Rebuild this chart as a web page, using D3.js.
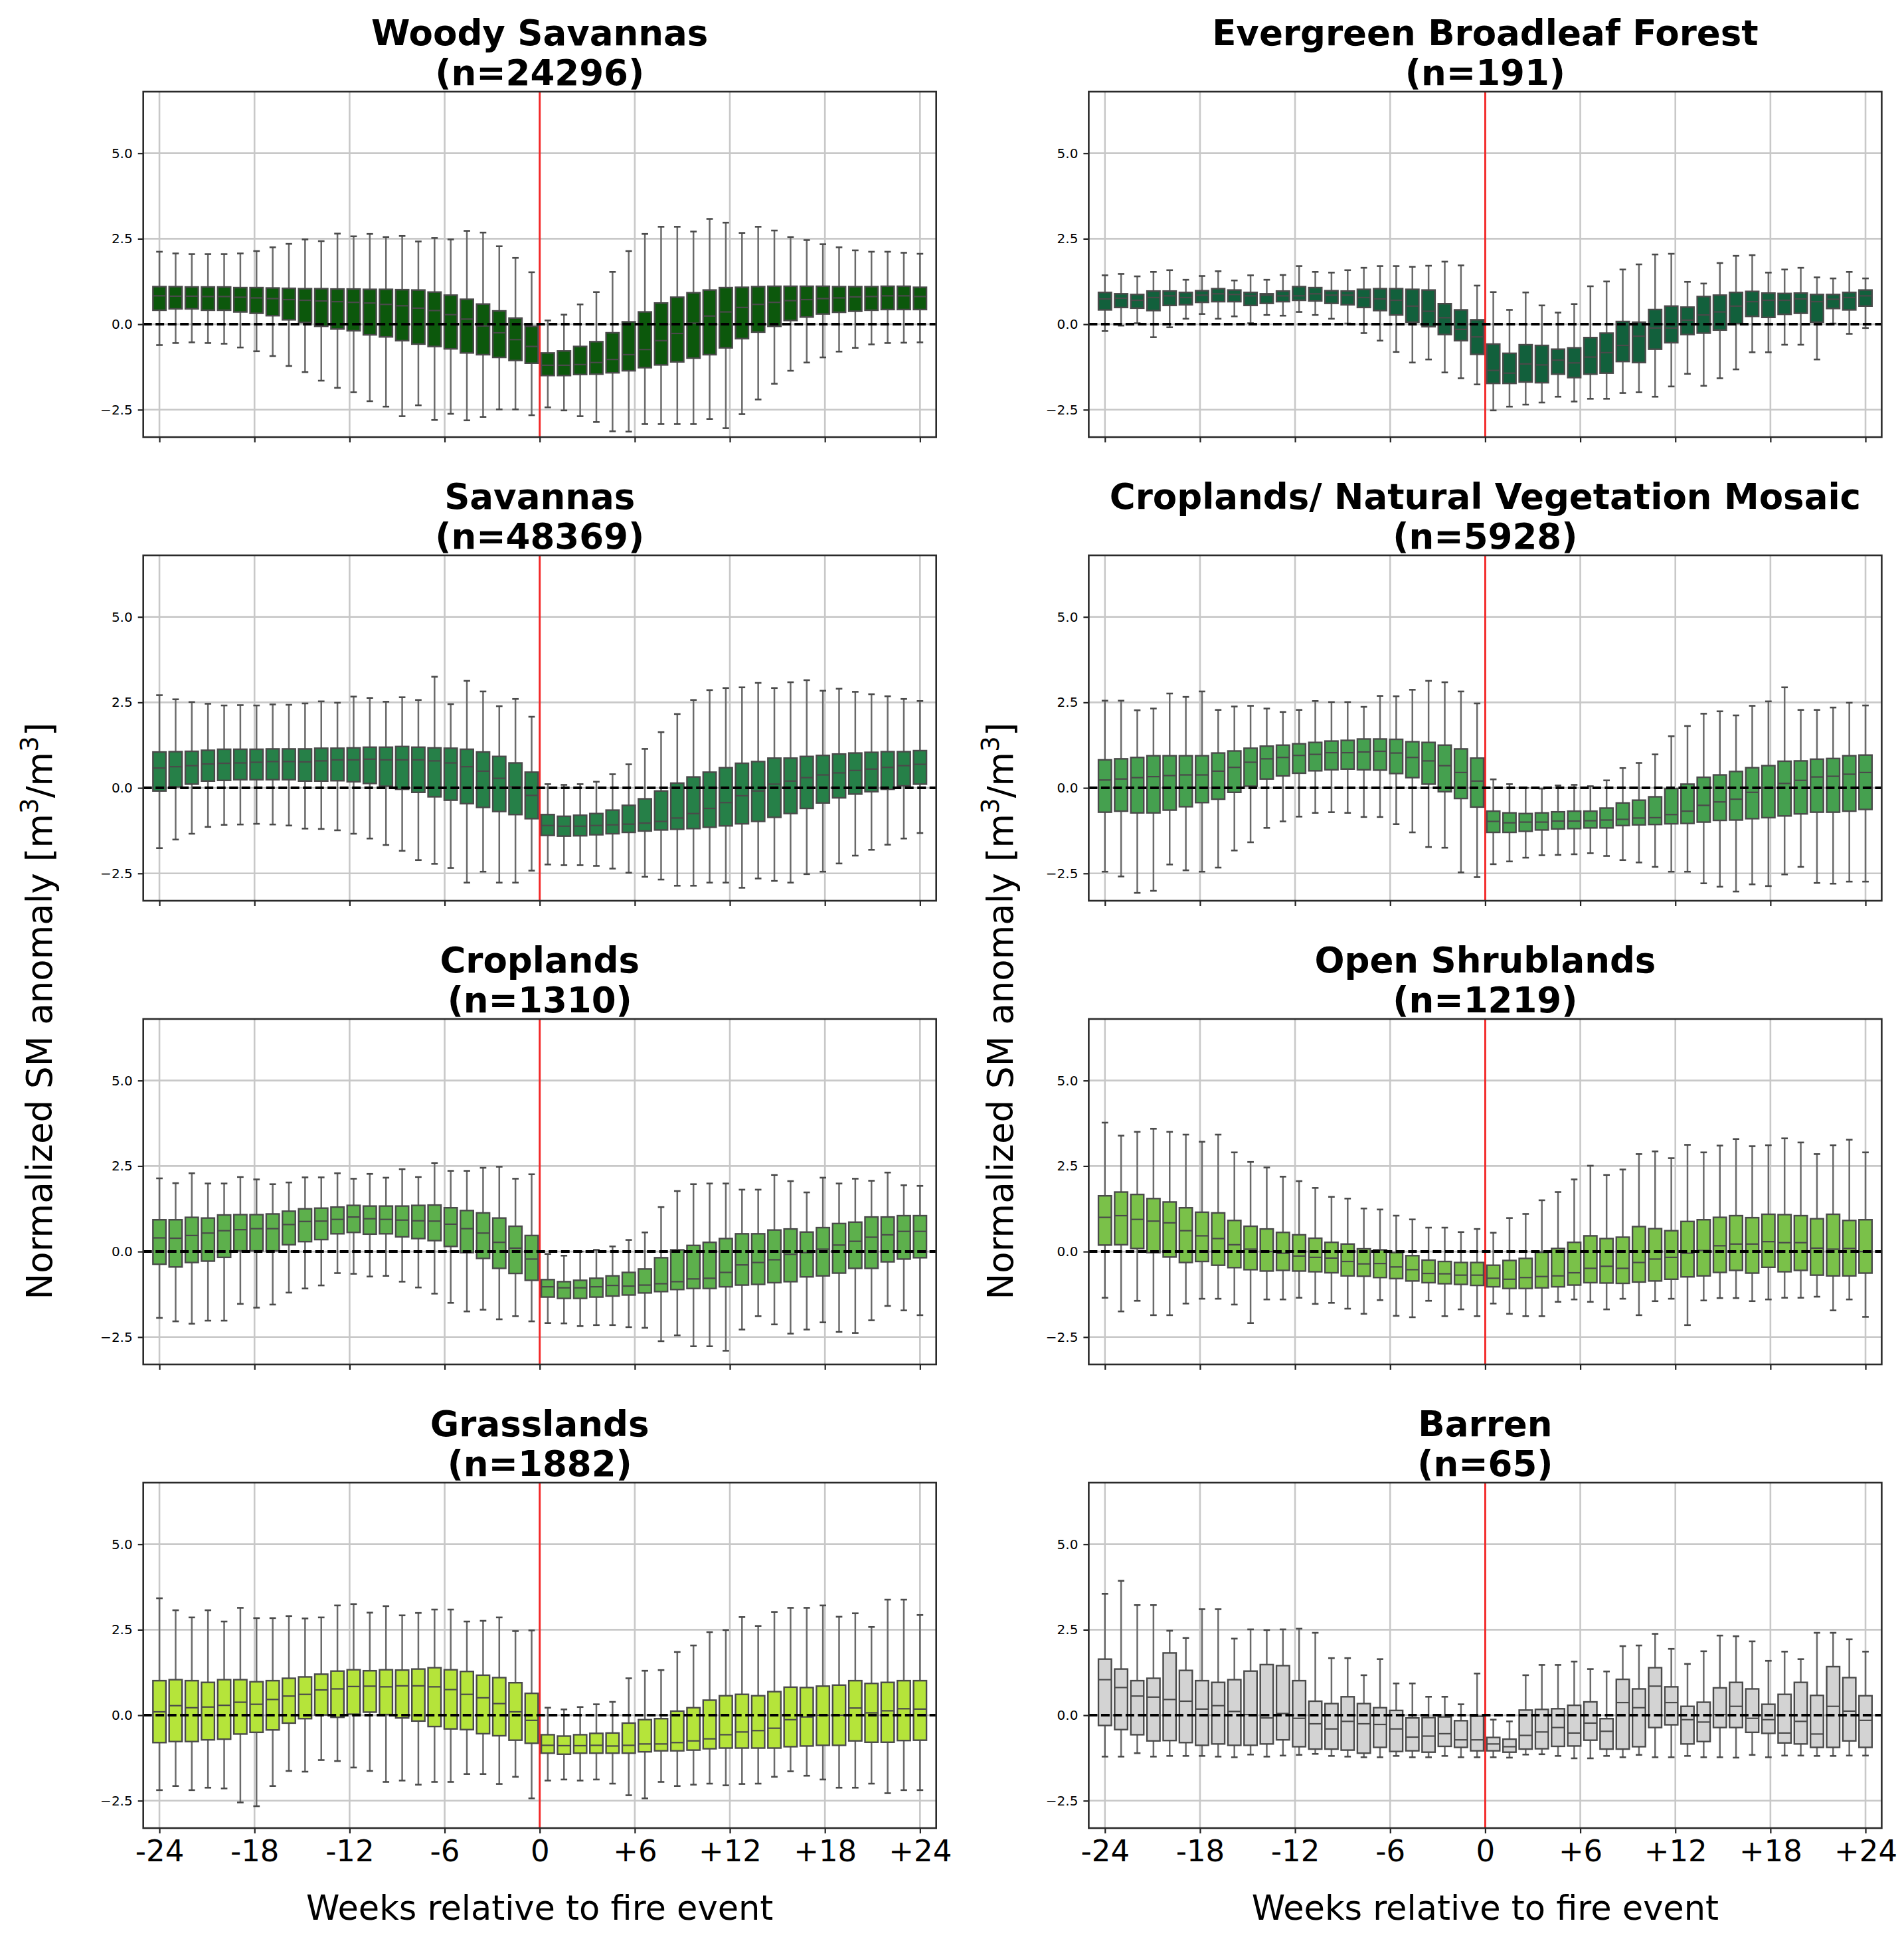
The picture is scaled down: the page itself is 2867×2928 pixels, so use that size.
<!DOCTYPE html>
<html>
<head>
<meta charset="utf-8">
<script src="https://cdn.jsdelivr.net/npm/d3@7.9.0/dist/d3.min.js"></script>
<style>
  body { margin: 0; background: #fff; }
  svg { display: block; font-family: "DejaVu Sans", sans-serif; }
</style>
</head>
<body>
<div id="chart"></div>
<script>
// Weeks relative to fire event (no week 0), one box per week
const weeks = [...d3.range(-24, 0), ...d3.range(1, 25)];
const xTickLabels = ["-24", "-18", "-12", "-6", "0", "+6", "+12", "+18", "+24"];
const yTickValues = [-2.5, 0, 2.5, 5.0];

const panelTitles = ["Woody Savannas", "Evergreen Broadleaf Forest", "Savannas",
  "Croplands/ Natural Vegetation Mosaic", "Croplands", "Open Shrublands", "Grasslands", "Barren"];
const panelCounts = [24296, 191, 48369, 5928, 1310, 1219, 1882, 65];
const panelColors = ["#0c580c", "#12603c", "#268048", "#45a04f", "#5db04c", "#7ac149", "#b5e43a", "#d3d3d3"];

// Woody Savannas
const wsHi = [2.12,2.07,2.05,2.05,2.05,2.07, 2.14,2.25,2.35,2.48,2.43,2.65, 2.57,2.64,2.55,2.58,2.42,2.52, 2.48,2.73,2.68,2.28,1.94,1.52, 0.11,0.28,0.58,0.94,1.53,2.14, 2.64,2.85,2.85,2.71,3.08,2.97, 2.67,2.85,2.74,2.55,2.46,2.34, 2.25,2.16,2.12,2.12,2.09,2.06];
const wsQ3 = [1.10,1.10,1.09,1.09,1.09,1.07, 1.07,1.06,1.05,1.04,1.04,1.03, 1.03,1.02,1.02,1.01,1.00,0.94, 0.85,0.73,0.59,0.39,0.18,-0.06, -0.84,-0.78,-0.65,-0.51,-0.25,0.07, 0.36,0.62,0.79,0.92,1.00,1.07, 1.08,1.10,1.11,1.11,1.11,1.11, 1.10,1.10,1.10,1.11,1.11,1.08];
const wsMed = [0.83,0.82,0.82,0.81,0.81,0.79, 0.77,0.75,0.72,0.70,0.68,0.66, 0.64,0.62,0.58,0.54,0.47,0.40, 0.28,0.15,-0.05,-0.25,-0.45,-0.65, -1.20,-1.20,-1.18,-1.12,-1.03,-0.89, -0.74,-0.48,-0.27,0.03,0.24,0.36, 0.49,0.58,0.64,0.69,0.72,0.75, 0.77,0.80,0.81,0.83,0.83,0.81];
const wsQ1 = [0.41,0.45,0.45,0.41,0.41,0.36, 0.32,0.25,0.13,0.05,-0.06,-0.14, -0.19,-0.31,-0.37,-0.48,-0.58,-0.65, -0.72,-0.84,-0.89,-0.97,-1.06,-1.14, -1.50,-1.50,-1.47,-1.46,-1.42,-1.36, -1.27,-1.19,-1.10,-0.99,-0.89,-0.69, -0.42,-0.23,-0.06,0.11,0.21,0.30, 0.35,0.38,0.41,0.43,0.43,0.43];
const wsLo = [-0.61,-0.55,-0.53,-0.55,-0.57,-0.68, -0.79,-0.93,-1.22,-1.40,-1.65,-1.86, -1.99,-2.25,-2.41,-2.69,-2.37,-2.80, -2.62,-2.81,-2.71,-2.49,-2.49,-2.66, -2.43,-2.52,-2.69,-2.86,-3.13,-3.14, -2.92,-2.92,-2.92,-2.92,-2.77,-3.04, -2.63,-2.20,-1.74,-1.36,-1.12,-0.97, -0.80,-0.69,-0.59,-0.55,-0.54,-0.53];

// Evergreen Broadleaf Forest
const ebHi = [1.43,1.47,1.40,1.53,1.58,1.30, 1.41,1.55,1.28,1.43,1.30,1.44, 1.70,1.53,1.51,1.58,1.65,1.70, 1.70,1.68,1.71,1.83,1.72,1.13, 0.94,0.42,0.93,0.55,0.34,0.59, 1.11,1.25,1.60,1.75,2.04,2.06, 1.24,1.19,1.79,2.00,2.02,1.51, 1.60,1.65,1.37,1.34,1.53,1.34];
const ebQ3 = [0.93,0.89,0.87,0.97,0.97,0.93, 0.98,1.04,1.00,0.93,0.89,0.97, 1.10,1.07,0.98,0.97,1.02,1.04, 1.04,1.02,1.00,0.60,0.42,0.13, -0.58,-0.85,-0.60,-0.62,-0.73,-0.69, -0.39,-0.26,0.08,0.06,0.43,0.53, 0.50,0.81,0.85,0.93,0.96,0.91, 0.90,0.91,0.87,0.87,0.93,1.00];
const ebMed = [0.74,0.76,0.70,0.78,0.83,0.78, 0.85,0.89,0.87,0.83,0.85,0.83, 0.83,0.89,0.85,0.85,0.78,0.74, 0.70,0.53,0.38,0.19,-0.15,-0.37, -1.35,-1.43,-1.16,-1.19,-1.05,-1.13, -0.96,-0.83,-0.62,-0.35,-0.11,-0.11, 0.12,0.27,0.36,0.53,0.66,0.70, 0.70,0.74,0.66,0.73,0.78,0.83];
const ebQ1 = [0.42,0.49,0.47,0.40,0.55,0.57, 0.64,0.66,0.66,0.55,0.61,0.66, 0.70,0.68,0.61,0.57,0.49,0.40, 0.27,0.06,-0.07,-0.30,-0.48,-0.88, -1.73,-1.73,-1.69,-1.71,-1.46,-1.56, -1.46,-1.43,-1.09,-1.12,-0.73,-0.54, -0.30,-0.26,-0.17,0.02,0.23,0.20, 0.29,0.32,0.06,0.46,0.42,0.53];
const ebLo = [-0.20,-0.04,0.03,-0.38,-0.09,0.16, 0.30,0.16,0.23,0.03,0.27,0.25, 0.36,0.27,0.16,0.02,-0.26,-0.48, -0.81,-1.12,-1.03,-1.41,-1.58,-1.76, -2.52,-2.41,-2.35,-2.29,-2.12,-2.26, -2.18,-2.18,-2.01,-1.99,-2.12,-1.82, -1.45,-1.80,-1.58,-1.32,-0.82,-0.82, -0.60,-0.60,-1.03,0.02,-0.28,-0.11];

// Savannas
const svHi = [2.71,2.59,2.51,2.46,2.41,2.42, 2.41,2.44,2.43,2.47,2.53,2.49, 2.67,2.63,2.52,2.65,2.57,3.25, 2.45,3.13,2.82,2.39,2.60,2.08, 0.11,0.09,0.11,0.18,0.40,0.69, 1.14,1.63,2.16,2.57,2.86,2.92, 2.94,3.07,2.92,3.09,3.15,2.84, 2.90,2.81,2.74,2.68,2.60,2.54];
const svQ3 = [1.05,1.06,1.07,1.10,1.13,1.13, 1.13,1.14,1.14,1.14,1.16,1.16, 1.17,1.19,1.19,1.21,1.19,1.17, 1.16,1.13,1.05,0.92,0.73,0.46, -0.78,-0.83,-0.80,-0.75,-0.65,-0.51, -0.32,-0.09,0.14,0.32,0.46,0.59, 0.72,0.77,0.87,0.87,0.92,0.95, 0.99,1.02,1.04,1.06,1.06,1.09];
const svMed = [0.58,0.62,0.65,0.70,0.72,0.73, 0.75,0.77,0.77,0.76,0.79,0.82, 0.82,0.84,0.82,0.82,0.82,0.79, 0.73,0.62,0.49,0.28,0.03,-0.22, -1.10,-1.12,-1.12,-1.10,-1.08,-1.06, -1.03,-0.98,-0.88,-0.75,-0.60,-0.43, -0.23,-0.09,0.11,0.20,0.30,0.38, 0.44,0.51,0.55,0.60,0.65,0.69];
const svQ1 = [-0.09,0.03,0.11,0.20,0.22,0.24, 0.24,0.24,0.24,0.20,0.20,0.21, 0.18,0.13,0.05,-0.04,-0.13,-0.26, -0.36,-0.46,-0.57,-0.69,-0.78,-0.90, -1.39,-1.41,-1.40,-1.37,-1.34,-1.30, -1.26,-1.23,-1.21,-1.19,-1.15,-1.11, -1.05,-0.98,-0.86,-0.75,-0.60,-0.44, -0.29,-0.18,-0.11,-0.04,0.06,0.11];
const svLo = [-1.76,-1.51,-1.34,-1.14,-1.08,-1.07, -1.05,-1.07,-1.10,-1.19,-1.20,-1.24, -1.34,-1.48,-1.67,-1.84,-2.11,-2.22, -2.34,-2.77,-2.45,-2.77,-2.77,-2.42, -2.24,-2.26,-2.26,-2.28,-2.36,-2.48, -2.60,-2.68,-2.86,-2.86,-2.77,-2.77, -2.92,-2.65,-2.72,-2.77,-2.52,-2.45, -2.21,-1.98,-1.81,-1.66,-1.48,-1.32];

// Croplands/ Natural Vegetation Mosaic
const cmHi = [2.55,2.55,2.27,2.32,2.76,2.66, 2.82,2.28,2.38,2.40,2.32,2.22, 2.28,2.54,2.51,2.51,2.37,2.69, 2.68,2.87,3.13,3.09,2.82,2.47, 0.25,0.11,0.00,-0.02,0.07,0.09, 0.05,0.22,0.58,0.73,0.98,1.51, 1.81,2.17,2.24,2.12,2.40,2.53, 2.94,2.28,2.28,2.35,2.49,2.41];
const cmQ3 = [0.82,0.85,0.89,0.94,0.94,0.94, 0.94,1.02,1.08,1.16,1.22,1.25, 1.29,1.33,1.37,1.39,1.43,1.43, 1.42,1.35,1.33,1.25,1.14,0.87, -0.68,-0.73,-0.75,-0.73,-0.70,-0.68, -0.68,-0.59,-0.44,-0.36,-0.26,-0.02, 0.11,0.31,0.38,0.48,0.59,0.65, 0.78,0.79,0.84,0.86,0.94,0.96];
const cmMed = [0.23,0.26,0.30,0.33,0.36,0.38, 0.38,0.49,0.60,0.75,0.85,0.89, 0.95,0.98,1.03,1.03,1.05,1.07, 1.02,0.89,0.79,0.65,0.45,0.20, -0.98,-1.02,-1.00,-1.00,-0.97,-0.97, -0.96,-0.94,-0.92,-0.88,-0.87,-0.78, -0.68,-0.51,-0.41,-0.33,-0.13,0.00, 0.13,0.22,0.32,0.34,0.40,0.45];
const cmQ1 = [-0.71,-0.68,-0.73,-0.73,-0.65,-0.55, -0.43,-0.33,-0.13,0.05,0.26,0.35, 0.43,0.50,0.53,0.55,0.53,0.52, 0.42,0.30,0.11,-0.11,-0.31,-0.56, -1.30,-1.30,-1.27,-1.23,-1.20,-1.19, -1.17,-1.17,-1.10,-1.08,-1.07,-1.05, -1.04,-1.00,-0.95,-0.94,-0.90,-0.87, -0.82,-0.76,-0.71,-0.71,-0.68,-0.63];
const cmLo = [-2.45,-2.59,-3.07,-3.01,-2.24,-2.41, -2.45,-2.33,-1.83,-1.59,-1.17,-0.98, -0.84,-0.73,-0.71,-0.73,-0.85,-0.85, -1.06,-1.30,-1.73,-1.75,-2.47,-2.61, -2.23,-2.15,-2.04,-1.97,-1.96,-1.94, -1.91,-1.99,-2.11,-2.18,-2.31,-2.45, -2.45,-2.79,-2.89,-3.03,-2.82,-2.87, -2.53,-2.31,-2.78,-2.80,-2.74,-2.74];

// Croplands
const crHi = [2.14,2.00,2.29,1.99,1.99,2.18, 2.11,1.97,2.02,2.17,2.17,2.29, 2.13,2.27,2.16,2.41,2.18,2.59, 2.36,2.36,2.45,2.48,2.13,2.26, -0.07,-0.12,0.00,0.05,0.15,0.34, 0.56,1.30,1.77,1.97,1.99,1.99, 1.81,1.81,2.24,2.06,1.73,2.16, 1.99,2.13,2.07,2.31,1.94,1.92];
const crQ3 = [0.93,0.93,1.00,0.98,1.07,1.08, 1.08,1.10,1.18,1.25,1.27,1.30, 1.35,1.33,1.33,1.33,1.35,1.36, 1.28,1.20,1.13,0.98,0.74,0.47, -0.82,-0.88,-0.84,-0.78,-0.71,-0.61, -0.51,-0.18,0.05,0.18,0.27,0.38, 0.52,0.52,0.63,0.66,0.57,0.70, 0.82,0.86,1.01,1.01,1.05,1.05];
const crMed = [0.40,0.39,0.47,0.54,0.61,0.64, 0.67,0.67,0.79,0.88,0.89,0.94, 1.01,0.96,0.94,0.92,0.90,0.89, 0.80,0.67,0.54,0.27,0.10,-0.22, -1.03,-1.06,-1.06,-1.03,-0.99,-1.01, -0.98,-0.94,-0.88,-0.80,-0.78,-0.61, -0.39,-0.32,-0.24,-0.08,-0.03,0.07, 0.19,0.30,0.42,0.49,0.59,0.59];
const crQ1 = [-0.37,-0.45,-0.32,-0.28,-0.17,0.02, 0.02,0.02,0.20,0.29,0.35,0.52, 0.56,0.51,0.52,0.43,0.38,0.32, 0.15,-0.03,-0.20,-0.49,-0.64,-0.84, -1.33,-1.37,-1.37,-1.33,-1.30,-1.27, -1.21,-1.17,-1.11,-1.08,-1.08,-1.03, -0.98,-0.96,-0.91,-0.88,-0.74,-0.71, -0.63,-0.49,-0.49,-0.30,-0.22,-0.18];
const crLo = [-1.94,-2.04,-2.11,-2.02,-2.02,-1.53, -1.64,-1.55,-1.20,-1.08,-0.99,-0.63, -0.65,-0.73,-0.71,-0.88,-1.05,-1.23, -1.50,-1.75,-1.70,-1.98,-1.89,-2.04, -2.09,-2.10,-2.18,-2.15,-2.15,-2.21, -2.23,-2.62,-2.45,-2.77,-2.77,-2.90, -2.28,-1.89,-2.13,-2.40,-2.28,-2.07, -2.35,-2.38,-2.01,-1.59,-1.72,-1.86];

// Open Shrublands
const osHi = [3.77,3.39,3.50,3.59,3.50,3.42, 3.21,3.42,2.90,2.62,2.46,2.19, 2.06,1.86,1.60,1.55,1.26,1.23, 1.05,0.94,0.70,0.70,0.57,0.66, 0.55,0.98,1.10,1.50,1.74,2.11, 2.51,2.24,2.40,2.85,2.93,2.73, 3.12,2.90,3.10,3.29,3.08,3.11, 3.31,3.19,2.85,3.11,3.27,2.90];
const osQ3 = [1.63,1.74,1.67,1.55,1.45,1.28, 1.15,1.13,0.91,0.74,0.66,0.56, 0.49,0.39,0.27,0.22,0.08,0.05, -0.03,-0.12,-0.25,-0.29,-0.32,-0.32, -0.40,-0.26,-0.20,-0.02,0.09,0.27, 0.46,0.38,0.42,0.73,0.67,0.61, 0.88,0.93,1.00,1.05,0.99,1.09, 1.08,1.05,0.96,1.09,0.91,0.93];
const osMed = [1.00,1.05,0.94,0.89,0.84,0.61, 0.46,0.38,0.20,0.07,0.00,-0.05, -0.13,-0.17,-0.19,-0.29,-0.36,-0.35, -0.45,-0.53,-0.64,-0.65,-0.69,-0.69, -0.78,-0.81,-0.76,-0.73,-0.71,-0.62, -0.49,-0.43,-0.49,-0.32,-0.22,-0.17, -0.05,0.03,0.17,0.22,0.22,0.29, 0.26,0.26,0.10,0.07,0.09,0.00];
const osQ1 = [0.19,0.20,0.09,-0.03,-0.16,-0.32, -0.29,-0.40,-0.47,-0.53,-0.57,-0.55, -0.57,-0.59,-0.62,-0.71,-0.72,-0.76, -0.79,-0.86,-0.91,-0.94,-0.96,-0.99, -1.03,-1.08,-1.08,-1.06,-1.03,-0.98, -0.91,-0.92,-0.93,-0.89,-0.86,-0.81, -0.74,-0.71,-0.61,-0.55,-0.63,-0.46, -0.59,-0.55,-0.69,-0.71,-0.71,-0.63];
const osLo = [-1.35,-1.75,-1.44,-1.86,-1.86,-1.52, -1.38,-1.38,-1.55,-2.09,-1.40,-1.40, -1.35,-1.53,-1.50,-1.67,-1.82,-1.42, -1.88,-1.92,-1.44,-1.89,-1.69,-1.89, -1.52,-1.82,-1.89,-1.89,-1.47,-1.40, -1.47,-1.69,-1.38,-1.86,-1.45,-1.38, -2.15,-1.43,-1.36,-1.36,-1.45,-1.40, -1.35,-1.35,-1.32,-1.72,-1.40,-1.91];

// Grasslands
const grHi = [3.42,3.07,2.86,3.07,2.74,3.14, 2.84,2.84,2.90,2.83,2.86,3.21, 3.25,3.00,3.19,2.92,2.99,3.09, 3.09,2.74,2.76,2.86,2.46,2.48, 0.22,0.17,0.24,0.32,0.39,1.08, 1.30,1.32,1.85,2.04,2.43,2.49, 2.87,2.61,3.02,3.14,3.14,3.21, 2.88,2.98,2.58,3.38,3.38,2.93];
const grQ3 = [1.01,1.04,1.01,0.96,1.04,1.04, 0.98,1.01,1.08,1.12,1.20,1.29, 1.33,1.30,1.33,1.32,1.35,1.39, 1.33,1.28,1.17,1.10,0.95,0.64, -0.57,-0.61,-0.57,-0.53,-0.52,-0.23, -0.13,-0.10,0.12,0.22,0.44,0.57, 0.61,0.57,0.69,0.82,0.81,0.85, 0.88,1.01,0.93,0.96,1.01,1.01];
const grMed = [0.10,0.28,0.22,0.24,0.29,0.38, 0.32,0.46,0.56,0.61,0.74,0.77, 0.84,0.85,0.83,0.86,0.86,0.83, 0.75,0.61,0.51,0.34,0.10,-0.15, -0.88,-0.89,-0.89,-0.88,-0.90,-0.88, -0.84,-0.84,-0.80,-0.75,-0.69,-0.57, -0.49,-0.45,-0.38,-0.13,-0.05,0.00, 0.00,0.21,0.07,0.13,0.19,0.18];
const grQ1 = [-0.80,-0.77,-0.77,-0.72,-0.70,-0.55, -0.50,-0.43,-0.23,-0.10,0.01,-0.06, 0.03,0.09,0.02,-0.08,-0.17,-0.33, -0.40,-0.42,-0.54,-0.60,-0.73,-0.82, -1.11,-1.14,-1.11,-1.11,-1.11,-1.11, -1.07,-1.04,-1.04,-1.02,-0.98,-0.96, -0.96,-0.96,-0.96,-0.92,-0.90,-0.88, -0.88,-0.75,-0.79,-0.79,-0.74,-0.73];
const grLo = [-2.19,-2.07,-2.19,-2.12,-2.14,-2.55, -2.66,-2.07,-1.63,-1.65,-1.31,-1.34, -1.53,-1.63,-1.95,-1.91,-2.03,-1.95, -1.95,-1.72,-1.72,-2.01,-1.80,-2.43, -1.91,-1.88,-1.91,-1.88,-2.00,-2.34, -2.43,-1.95,-2.07,-2.03,-2.00,-2.05, -2.01,-2.00,-1.80,-1.64,-1.77,-1.88, -2.12,-2.12,-2.00,-2.28,-2.19,-2.19];

// Barren
const baHi = [3.55,3.93,3.22,3.22,2.47,2.26, 3.10,3.10,2.24,2.51,2.49,2.51, 2.53,2.41,1.67,1.67,1.17,1.64, 0.93,0.93,0.54,0.54,0.32,1.22, -0.13,-0.18,1.17,1.47,1.47,1.57, 1.35,1.28,2.02,2.04,2.38,1.94, 1.50,1.87,2.33,2.31,2.16,1.59, 1.86,1.64,2.41,2.41,2.22,1.86];
const baQ3 = [1.64,1.35,1.01,1.08,1.82,1.31, 1.01,0.96,1.04,1.29,1.48,1.45, 1.01,0.41,0.34,0.54,0.34,0.22, 0.14,-0.08,-0.07,-0.05,-0.16,-0.03, -0.65,-0.70,0.15,0.17,0.19,0.29, 0.39,-0.10,1.05,0.77,1.39,0.83, 0.26,0.38,0.80,0.96,0.77,0.32, 0.61,0.96,0.58,1.42,1.10,0.57];
const baMed = [1.04,0.81,0.56,0.53,0.46,0.41, 0.18,0.28,0.11,0.02,-0.08,0.05, -0.09,-0.25,-0.40,-0.18,-0.25,-0.27, -0.40,-0.64,-0.61,-0.54,-0.72,-0.72, -0.84,-0.92,-0.59,-0.49,-0.36,-0.52, -0.23,-0.47,0.37,0.22,0.85,0.37, -0.13,-0.20,0.02,0.26,-0.09,-0.13, -0.52,-0.18,-0.55,0.26,0.12,-0.15];
const baQ1 = [-0.30,-0.42,-0.57,-0.75,-0.74,-0.80, -0.88,-0.84,-0.88,-0.88,-0.84,-0.72, -0.92,-0.99,-0.99,-1.02,-1.11,-0.94, -1.06,-1.04,-1.08,-0.91,-0.94,-1.04, -1.04,-1.08,-0.99,-0.98,-0.91,-0.90, -0.73,-0.99,-0.99,-0.92,-0.36,-0.28, -0.84,-0.77,-0.36,-0.36,-0.50,-0.53, -0.81,-0.84,-0.94,-0.94,-0.75,-0.94];
const baLo = [-1.21,-1.21,-1.11,-1.21,-1.19,-1.19, -1.19,-1.21,-1.23,-1.15,-1.21,-1.18, -1.16,-1.13,-1.19,-1.21,-1.23,-1.23, -1.19,-1.23,-1.23,-1.19,-1.23,-1.23, -1.23,-1.24,-1.15,-1.14,-1.19,-1.26, -1.26,-1.19,-1.23,-1.16,-1.23,-1.23, -1.19,-1.23,-1.23,-1.24,-1.16,-1.23, -1.18,-1.18,-1.19,-1.19,-1.18,-1.18];

const panelStats = [
  [wsLo, wsQ1, wsMed, wsQ3, wsHi],
  [ebLo, ebQ1, ebMed, ebQ3, ebHi],
  [svLo, svQ1, svMed, svQ3, svHi],
  [cmLo, cmQ1, cmMed, cmQ3, cmHi],
  [crLo, crQ1, crMed, crQ3, crHi],
  [osLo, osQ1, osMed, osQ3, osHi],
  [grLo, grQ1, grMed, grQ3, grHi],
  [baLo, baQ1, baMed, baQ3, baHi]
];

// Layout
const W = 2867, H = 2928;
const colLeft = [215.7, 1639.4];
const rowTop = [138, 836, 1534, 2232];
const plotW = 1194, plotH = 520;
const edgeGray = "#4a4a4a";
const whiskerGray = "#6a6a6a";

const svg = d3.select("#chart").append("svg")
  .attr("width", W).attr("height", H)
  .attr("viewBox", `0 0 ${W} ${H}`);

const x = d3.scaleLinear().domain([-1, 48]).range([0, plotW]);
const y = d3.scaleLinear().domain([-3.3, 6.8]).range([plotH, 0]);
const xTickPos = d3.range(9).map((i) => (i * (weeks.length - 1)) / 8);
const fireIndex = (weeks.length - 1) / 2; // between week -1 and week +1
const boxW = (x(1) - x(0)) * 0.8;
const capW = boxW * 0.5;

function drawPanel(k) {
  const col = k % 2, row = Math.floor(k / 2);
  const [lo, q1, med, q3, hi] = panelStats[k];
  const color = panelColors[k];
  const g = svg.append("g")
    .attr("transform", `translate(${colLeft[col]},${rowTop[row]})`);

  // Title
  const title = g.append("text")
    .attr("text-anchor", "middle")
    .attr("font-weight", "bold")
    .attr("font-size", 53)
    .attr("fill", "#000");
  title.append("tspan").attr("x", plotW / 2).attr("y", -70).text(panelTitles[k]);
  title.append("tspan").attr("x", plotW / 2).attr("y", -10).text(`(n=${panelCounts[k]})`);

  // Grid
  g.append("g").selectAll("line").data(xTickPos).join("line")
    .attr("x1", (d) => x(d)).attr("x2", (d) => x(d))
    .attr("y1", 0).attr("y2", plotH)
    .attr("stroke", "#c8c8c8").attr("stroke-width", 2.6);
  g.append("g").selectAll("line").data(yTickValues).join("line")
    .attr("x1", 0).attr("x2", plotW)
    .attr("y1", (d) => y(d)).attr("y2", (d) => y(d))
    .attr("stroke", "#c8c8c8").attr("stroke-width", 2.6);

  // Fire event line
  g.append("line")
    .attr("x1", x(fireIndex)).attr("x2", x(fireIndex))
    .attr("y1", 0).attr("y2", plotH)
    .attr("stroke", "#f42424").attr("stroke-width", 2.8);

  const data = weeks.map((w, i) => ({ i, lo: lo[i], q1: q1[i], med: med[i], q3: q3[i], hi: hi[i] }));
  const boxes = g.append("g").selectAll("g").data(data).join("g");

  // Whiskers
  boxes.append("line")
    .attr("x1", (d) => x(d.i)).attr("x2", (d) => x(d.i))
    .attr("y1", (d) => y(d.hi)).attr("y2", (d) => y(d.q3))
    .attr("stroke", whiskerGray).attr("stroke-width", 2.5);
  boxes.append("line")
    .attr("x1", (d) => x(d.i)).attr("x2", (d) => x(d.i))
    .attr("y1", (d) => y(d.q1)).attr("y2", (d) => y(d.lo))
    .attr("stroke", whiskerGray).attr("stroke-width", 2.5);
  // Caps
  ["hi", "lo"].forEach((key) => {
    boxes.append("line")
      .attr("x1", (d) => x(d.i) - capW / 2).attr("x2", (d) => x(d.i) + capW / 2)
      .attr("y1", (d) => y(d[key])).attr("y2", (d) => y(d[key]))
      .attr("stroke", edgeGray).attr("stroke-width", 2.6);
  });
  // Boxes
  boxes.append("rect")
    .attr("x", (d) => x(d.i) - boxW / 2)
    .attr("width", boxW)
    .attr("y", (d) => y(d.q3))
    .attr("height", (d) => y(d.q1) - y(d.q3))
    .attr("fill", color)
    .attr("stroke", edgeGray).attr("stroke-width", 2.4);
  // Medians
  boxes.append("line")
    .attr("x1", (d) => x(d.i) - boxW / 2).attr("x2", (d) => x(d.i) + boxW / 2)
    .attr("y1", (d) => y(d.med)).attr("y2", (d) => y(d.med))
    .attr("stroke", edgeGray).attr("stroke-width", 2.2);

  // Zero reference line
  g.append("line")
    .attr("x1", 0).attr("x2", plotW)
    .attr("y1", y(0)).attr("y2", y(0))
    .attr("stroke", "#000").attr("stroke-width", 4)
    .attr("stroke-dasharray", "13,5.5");

  // Axes
  const xAxis = d3.axisBottom(x).tickValues(xTickPos).tickSize(8).tickPadding(10)
    .tickFormat((d, i) => (row === 3 ? xTickLabels[i] : ""));
  const gx = g.append("g").attr("transform", `translate(0,${plotH})`).call(xAxis);
  gx.select(".domain").remove();
  gx.selectAll(".tick line").attr("stroke", "#222").attr("stroke-width", 2.2);
  gx.selectAll(".tick text").attr("font-size", 45).attr("fill", "#000")
    .attr("font-family", '"DejaVu Sans", sans-serif');

  const yAxis = d3.axisLeft(y).tickValues(yTickValues).tickSize(8).tickPadding(8)
    .tickFormat(d3.format(".1f"));
  const gy = g.append("g").call(yAxis);
  gy.select(".domain").remove();
  gy.selectAll(".tick line").attr("stroke", "#222").attr("stroke-width", 2.2);
  gy.selectAll(".tick text").attr("font-size", 20).attr("fill", "#000")
    .attr("font-family", '"DejaVu Sans", sans-serif');

  // Frame
  g.append("rect")
    .attr("width", plotW).attr("height", plotH)
    .attr("fill", "none").attr("stroke", "#2a2a2a").attr("stroke-width", 2.6);

  // Bottom row x label
  if (row === 3) {
    g.append("text")
      .attr("x", plotW / 2).attr("y", 2890 - rowTop[row])
      .attr("text-anchor", "middle").attr("font-size", 51).attr("fill", "#000")
      .text("Weeks relative to fire event");
  }
}

panelTitles.forEach((_, k) => drawPanel(k));

// Y labels, one per column
[78, 1525].forEach((bx) => {
  const t = svg.append("text")
    .attr("transform", `translate(${bx},1522) rotate(-90)`)
    .attr("text-anchor", "middle").attr("font-size", 53).attr("fill", "#000");
  t.append("tspan").text("Normalized SM anomaly [m");
  t.append("tspan").attr("font-size", 37).attr("dy", -21).text("3");
  t.append("tspan").attr("dy", 21).text("/m");
  t.append("tspan").attr("font-size", 37).attr("dy", -21).text("3");
  t.append("tspan").attr("dy", 21).text("]");
});
</script>
</body>
</html>
